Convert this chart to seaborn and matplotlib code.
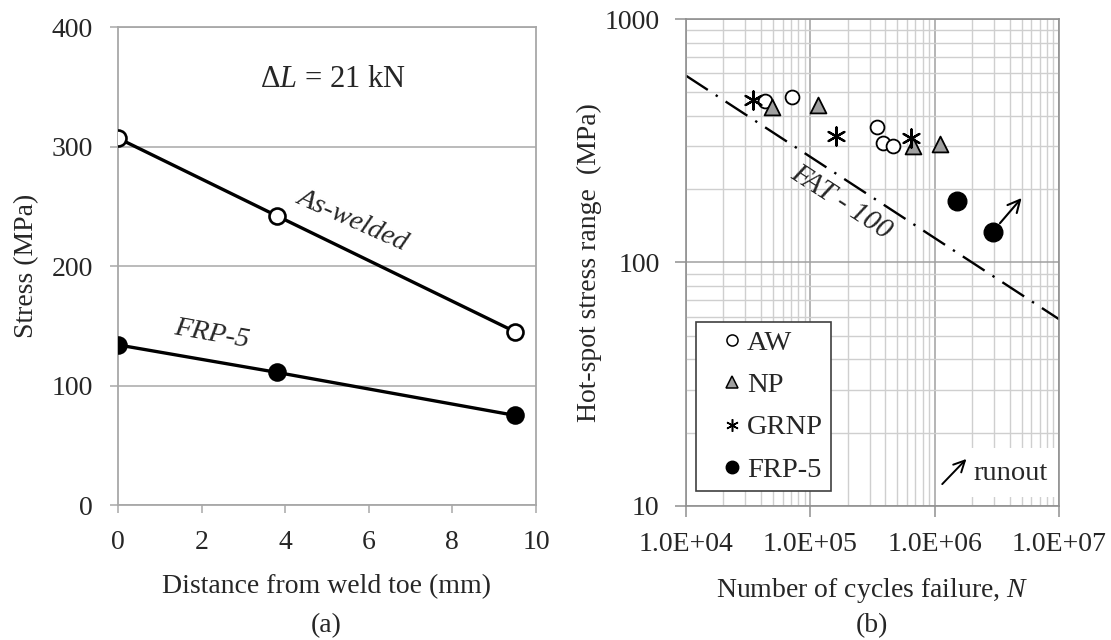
import matplotlib
matplotlib.use("Agg")
import matplotlib.pyplot as plt
from matplotlib.lines import Line2D
from matplotlib.patches import Rectangle
import seaborn as sns

sns.set_style("white")
plt.rcParams['font.family'] = ['Liberation Serif', 'DejaVu Serif']
plt.rcParams['mathtext.fontset'] = 'custom'
plt.rcParams['mathtext.rm'] = 'Liberation Serif'
plt.rcParams['mathtext.it'] = 'Liberation Serif:italic'

# ---------------- data (a) ----------------
dist_mm = [0, 3.8, 9.5]
stress_as_welded = [307, 242, 145]
stress_frp5 = [134, 111, 75]
a_xticks = [0, 2, 4, 6, 8, 10]
a_yticks = [0, 100, 200, 300, 400]

# ---------------- data (b) ----------------
aw_N = [43100, 71600, 342000, 382000, 464000]
aw_S = [462, 480, 359, 311, 301]
np_N = [48900, 115900, 665000, 1104000]
np_S = [437, 444, 301, 307]
grnp_N = [34800, 160000, 645000]
grnp_S = [465, 331, 324]
frp_N = [1521000, 2966000]
frp_S = [179, 134]
fat_N = [1e4, 1e7]
fat_S = [585, 58.5]
runout_from = (3.35e6, 145)
runout_to = (5.0e6, 184)
b_xticks = [1e4, 1e5, 1e6, 1e7]
b_xticklabels = ["1.0E+04", "1.0E+05", "1.0E+06", "1.0E+07"]
b_yticks = [10, 100, 1000]
b_yticklabels = ["10", "100", "1000"]
legend_names = ["AW", "NP", "GRNP", "FRP-5"]

FS = 20
GRID = '#a8a8a8'

fig = plt.figure(figsize=(11.11, 6.40), dpi=100)
axA = fig.add_axes([0.1062, 0.2109, 0.3762, 0.7469])
axB = fig.add_axes([0.6175, 0.2094, 0.3357, 0.7609])

# ---------- panel (a) ----------
sns.lineplot(x=dist_mm, y=stress_as_welded, ax=axA, color='black', linewidth=2.4,
             marker='o', markersize=11.5, markerfacecolor='white',
             markeredgecolor='black', markeredgewidth=1.9, zorder=3)
sns.lineplot(x=dist_mm, y=stress_frp5, ax=axA, color='black', linewidth=2.4,
             marker='o', markersize=11.5, markerfacecolor='black',
             markeredgecolor='black', markeredgewidth=1.9, zorder=3)
axA.set_xlim(0, 10)
axA.set_ylim(0, 400)
axA.set_xticks(a_xticks)
axA.set_yticks(a_yticks)
axA.yaxis.grid(True, color=GRID, linewidth=1.1)
axA.xaxis.grid(False)
for s in axA.spines.values():
    s.set_color(GRID)
    s.set_linewidth(1.3)
axA.tick_params(axis='both', which='major', direction='out', length=6, width=1.1,
                color=GRID, labelsize=FS, pad=12, bottom=True, left=True)
axA.set_xlabel("Distance from weld toe (mm)", fontsize=FS, labelpad=13.5)
axA.set_ylabel("Stress (MPa)", fontsize=FS, labelpad=9)
axA.text(5.13, 356, "Δ$L$ = 21 kN", fontsize=22, ha='center', va='center')
axA.text(5.6, 238, "As-welded", fontsize=20.5, style='italic', rotation=-24,
         ha='center', va='center', rotation_mode='anchor')
axA.text(2.25, 143, "FRP-5", fontsize=20.5, style='italic', rotation=-10,
         ha='center', va='center', rotation_mode='anchor')

# ---------- panel (b) ----------
axB.set_xscale('log')
axB.set_yscale('log')
axB.plot(fat_N, fat_S, color='black', linewidth=1.7, dashes=(11, 4, 1, 4), zorder=2)
sns.scatterplot(x=aw_N, y=aw_S, ax=axB, marker='o', s=100, facecolor='white',
                edgecolor='black', linewidth=1.3, zorder=4)
sns.scatterplot(x=np_N, y=np_S, ax=axB, marker='^', s=130, facecolor='#a0a0a0',
                edgecolor='black', linewidth=1.3, zorder=4)
sns.scatterplot(x=grnp_N, y=grnp_S, ax=axB, marker=(6, 2, 0), s=170, color='black',
                linewidth=1.6, zorder=5)
sns.scatterplot(x=frp_N, y=frp_S, ax=axB, marker='o', s=180, color='black',
                edgecolor='black', linewidth=1, zorder=5)
axB.annotate('', xy=runout_to, xytext=runout_from,
             arrowprops=dict(arrowstyle='->', lw=1.5, color='black', mutation_scale=22,
                             shrinkA=0, shrinkB=0), zorder=6)
axB.set_xlim(1e4, 1e7)
axB.set_ylim(10, 1000)
axB.set_xticks(b_xticks, b_xticklabels)
axB.set_yticks(b_yticks, b_yticklabels)
axB.grid(True, which='major', color='#a0a0a0', linewidth=1.1)
axB.grid(True, which='minor', color='#cfcfcf', linewidth=1.0)
for s in axB.spines.values():
    s.set_color('#909090')
    s.set_linewidth(1.2)
axB.tick_params(axis='both', which='major', direction='out', length=8, width=1.1,
                color='#909090', labelsize=FS, pad=11, bottom=True, left=True)
axB.tick_params(axis='both', which='minor', length=0)
axB.set_xlabel("Number of cycles failure, $N$", fontsize=FS, labelpad=13.5)
axB.set_ylabel("Hot-spot stress range  (MPa)", fontsize=FS, labelpad=2)
axB.text(1.75e5, 176, "FAT - 100", fontsize=21, style='italic', rotation=-33,
         ha='center', va='center', rotation_mode='anchor', zorder=3)

# runout key (white box with arrow)
axB.add_patch(Rectangle((0.678, 0.018), 0.317, 0.101, transform=axB.transAxes,
                        facecolor='white', edgecolor='none', zorder=3))
axB.annotate('', xy=(1.8e6, 15.6), xytext=(1.15e6, 12.3),
             arrowprops=dict(arrowstyle='->', lw=1.4, color='black', mutation_scale=20,
                             shrinkA=0, shrinkB=0), zorder=6)
axB.text(2.05e6, 13.6, "runout", fontsize=20.5, ha='left', va='center', zorder=6)

# legend
handles = [
    Line2D([], [], linestyle='none', marker='o', markersize=8, markerfacecolor='white',
           markeredgecolor='black', markeredgewidth=1.1),
    Line2D([], [], linestyle='none', marker='^', markersize=8, markerfacecolor='#a0a0a0',
           markeredgecolor='black', markeredgewidth=1.1),
    Line2D([], [], linestyle='none', marker=(6, 2, 0), markersize=9, color='black',
           markeredgewidth=1.1),
    Line2D([], [], linestyle='none', marker='o', markersize=9, markerfacecolor='black',
           markeredgecolor='black'),
]
leg = axB.legend(handles, legend_names, loc='lower left', bbox_to_anchor=(0.027, 0.031),
                 borderaxespad=0, fontsize=20.5, frameon=True, fancybox=False,
                 framealpha=1, edgecolor='#404040', handlelength=1.94,
                 handletextpad=-0.435, borderpad=0.28, labelspacing=0.58)
leg.get_frame().set_linewidth(1.2)
leg.set_zorder(7)

fig.text(0.294, 0.023, "(a)", fontsize=FS, ha='center', va='center')
fig.text(0.785, 0.023, "(b)", fontsize=FS, ha='center', va='center')

fig.savefig("out.png", dpi=100)
